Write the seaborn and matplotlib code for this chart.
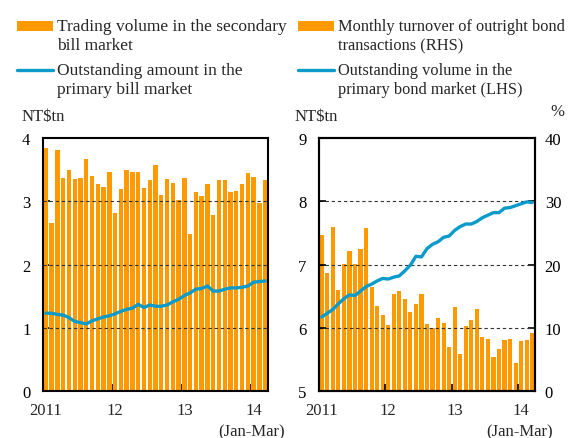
import numpy as np
import pandas as pd
import matplotlib.pyplot as plt
import seaborn as sns
from matplotlib.patches import Rectangle
from matplotlib.lines import Line2D

# %% Data (monthly, Jan 2011 - Mar 2014)
months = pd.date_range('2011-01-01', '2014-03-01', freq='MS')

# Left panel, NT$tn
bill_trading = [3.84, 2.66, 3.81, 3.37, 3.50, 3.35, 3.37, 3.67, 3.40, 3.27, 3.22, 3.47,
                2.81, 3.19, 3.50, 3.47, 3.47, 3.21, 3.34, 3.57, 3.10, 3.35, 3.29, 3.02,
                3.37, 2.49, 3.14, 3.09, 3.28, 2.79, 3.34, 3.34, 3.14, 3.16, 3.28, 3.44,
                3.38, 2.98, 3.34]
bill_outstanding = [1.23, 1.23, 1.21, 1.20, 1.16, 1.10, 1.08, 1.06, 1.11, 1.14, 1.17, 1.19,
                    1.22, 1.26, 1.29, 1.31, 1.37, 1.32, 1.36, 1.34, 1.34, 1.36, 1.41, 1.45,
                    1.51, 1.55, 1.61, 1.62, 1.66, 1.58, 1.58, 1.61, 1.63, 1.63, 1.64, 1.66,
                    1.72, 1.73, 1.74]

# Right panel: turnover in % (RHS), outstanding in NT$tn (LHS)
bond_turnover = [24.6, 18.7, 26.0, 15.9, 20.1, 22.1, 20.1, 22.5, 25.8, 16.4, 13.4, 12.0,
                 10.5, 15.3, 15.8, 14.5, 12.5, 13.7, 15.4, 10.6, 10.0, 11.6, 10.8, 7.0,
                 13.3, 5.8, 10.3, 11.2, 12.9, 8.5, 8.2, 5.4, 6.7, 8.0, 8.3, 4.5,
                 7.9, 8.1, 9.1]
bond_outstanding = [6.17, 6.23, 6.29, 6.38, 6.46, 6.52, 6.51, 6.58, 6.65, 6.69, 6.74, 6.78,
                    6.77, 6.80, 6.82, 6.90, 6.99, 7.13, 7.12, 7.25, 7.32, 7.36, 7.43, 7.45,
                    7.54, 7.60, 7.64, 7.64, 7.68, 7.74, 7.78, 7.82, 7.82, 7.89, 7.90, 7.93,
                    7.96, 7.99, 7.98]

year_labels = ['2011', '12', '13', '14']
legend_left = [['Trading volume in the secondary', 'bill market'],
               ['Outstanding amount in the', 'primary bill market']]
legend_right = [['Monthly turnover of outright bond', 'transactions (RHS)'],
                ['Outstanding volume in the', 'primary bond market (LHS)']]

df = pd.DataFrame({'i': np.arange(len(months)), 'bill_trading': bill_trading,
                   'bill_outstanding': bill_outstanding,
                   'bond_turnover': bond_turnover,
                   'bond_outstanding': bond_outstanding})

# %% Style
sns.set_style('white')
plt.rcParams['font.family'] = ['Liberation Serif', 'DejaVu Serif']
orange = '#FF9900'
blue = '#0A9BCB'
fs = 12
W, H = 570, 439

fig = plt.figure(figsize=(5.7, 4.39), dpi=100)
ax_l = fig.add_axes([43 / W, 1 - 392 / H, 225 / W, 253 / H])
ax_r = fig.add_axes([319 / W, 1 - 392 / H, 216 / W, 253 / H])
ax_r2 = ax_r.twinx()

# Left panel
sns.barplot(data=df, x='i', y='bill_trading', color=orange, saturation=1,
            width=0.76, native_scale=True, ax=ax_l, zorder=1, linewidth=0)
sns.lineplot(data=df, x='i', y='bill_outstanding', color=blue, linewidth=2.4,
             ax=ax_l, zorder=3)
for g in [1, 2, 3]:
    ax_l.axhline(g, color='#333333', ls=(0, (3, 2.5)), lw=0.8, zorder=2)
ax_l.set_ylim(0, 4)
ax_l.set_yticks([0, 1, 2, 3, 4])

# Right panel: bars on the RHS axis, line on the LHS axis (drawn on top)
sns.barplot(data=df, x='i', y='bond_turnover', color=orange, saturation=1,
            width=0.76, native_scale=True, ax=ax_r2, zorder=1, linewidth=0)
for g in [10, 20, 30]:
    ax_r2.axhline(g, color='#333333', ls=(0, (3, 2.5)), lw=0.8, zorder=2)
ax_r2.set_ylim(0, 40)
ax_r2.set_yticks([0, 10, 20, 30, 40])
ax_r.set_zorder(ax_r2.get_zorder() + 1)
ax_r.patch.set_visible(False)
sns.lineplot(data=df, x='i', y='bond_outstanding', color=blue, linewidth=2.4,
             ax=ax_r, zorder=3)
ax_r.set_ylim(5, 9)
ax_r.set_yticks([5, 6, 7, 8, 9])

for ax in [ax_l, ax_r, ax_r2]:
    ax.set_xlim(-0.5, len(months) - 0.5)
    ax.set_xticks([-0.5, 11.5, 23.5, 35.5])
    ax.set_xticklabels([])
    ax.set_xlabel('')
    ax.set_ylabel('')
    ax.tick_params(direction='in', length=5, width=1.2, colors='black',
                   labelsize=fs)
    for s in ax.spines.values():
        s.set_linewidth(1.5)
        s.set_color('black')
ax_l.tick_params(axis='y', pad=9, left=True)
ax_r.tick_params(axis='y', pad=9, left=True)
ax_r2.tick_params(axis='y', pad=7, right=True)
ax_l.tick_params(axis='x', bottom=True)
ax_r.tick_params(axis='x', bottom=True)

# Year labels under the axes
for ax in [ax_l, ax_r]:
    tr = ax.get_xaxis_transform()
    for pos, lab in zip([0, 12, 24, 36], year_labels):
        ax.text(pos, -0.075, lab, transform=tr, ha='center', va='center',
                fontsize=fs)
    ax.text(35.7, -0.158, '(Jan-Mar)', transform=tr, ha='center',
            va='center', fontsize=fs)

# Unit labels
fig.text(22 / W, 1 - 117 / H, 'NT$tn', ha='left', va='center', fontsize=fs)
fig.text(295 / W, 1 - 117 / H, 'NT$tn', ha='left', va='center', fontsize=fs)
fig.text(557 / W, 1 - 112 / H, '%', ha='center', va='center', fontsize=fs)


# Legends drawn by hand
def draw_legend(x0, texts, size):
    fig.add_artist(Rectangle((x0 / W, 1 - 32 / H), 36 / W, 10 / H,
                             transform=fig.transFigure, color=orange, lw=0))
    fig.add_artist(Line2D([x0 / W, (x0 + 36) / W], [1 - 71 / H, 1 - 71 / H],
                          transform=fig.transFigure, color=blue, lw=2.4))
    for y, txt in zip([27, 46.5, 71, 90.5],
                      texts[0] + texts[1]):
        fig.text((x0 + 40) / W, 1 - y / H, txt, ha='left', va='center',
                 fontsize=size)


draw_legend(17, legend_left, 12.5)
draw_legend(298, legend_right, 11.8)

fig.savefig('out.png', dpi=100)
